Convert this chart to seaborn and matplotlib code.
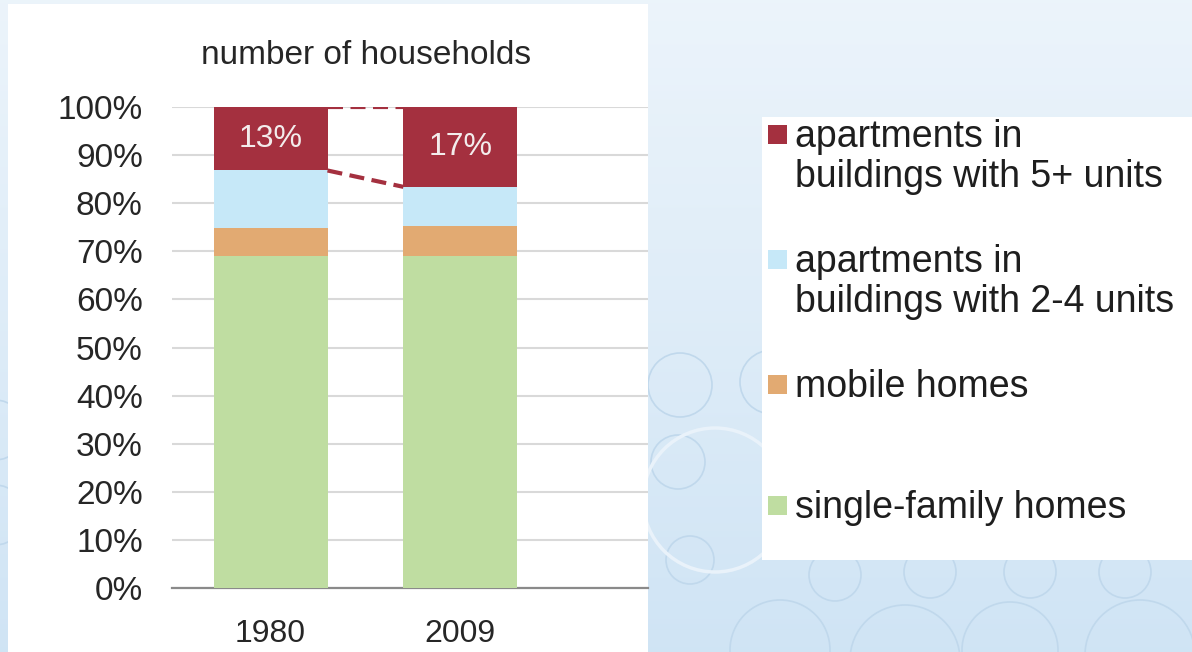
import numpy as np
import pandas as pd
import matplotlib
matplotlib.use("Agg")
import matplotlib.pyplot as plt
import seaborn as sns
from matplotlib.patches import Rectangle, Circle

# ---------------- data ----------------
years = ["1980", "2009"]
single_family = [69.1, 69.1]
mobile_homes = [5.7, 6.2]
apt_2_4 = [12.0, 8.1]
apt_5plus = [13.2, 16.6]
share_labels = ["13%", "17%"]
series_names = ["apartments in\nbuildings with 5+ units",
                "apartments in\nbuildings with 2-4 units",
                "mobile homes",
                "single-family homes"]
series_colors = ["#a4303f", "#c6e8f8", "#e2aa72", "#bfdda1"]
ytick_values = [0, 10, 20, 30, 40, 50, 60, 70, 80, 90, 100]
ytick_labels = [f"{v}%" for v in ytick_values]
title_text = "number of households"

df = pd.DataFrame({"year": years, "single": single_family, "mobile": mobile_homes,
                   "apt24": apt_2_4, "apt5": apt_5plus})
df["c1"] = df["single"]
df["c2"] = df["c1"] + df["mobile"]
df["c3"] = df["c2"] + df["apt24"]
df["c4"] = df["c3"] + df["apt5"]

sns.set_theme(style="white")
plt.rcParams['font.family'] = ['Liberation Sans', 'DejaVu Sans']

W, H = 1192, 652
fig = plt.figure(figsize=(W / 100, H / 100), dpi=100)

# ---------------- background ----------------
bg = fig.add_axes([0, 0, 1, 1], zorder=-10)
bg.set_xlim(0, W)
bg.set_ylim(H, 0)
bg.axis("off")
grad = np.linspace(0, 1, 256)[:, None]
c_top = np.array([0.925, 0.957, 0.984])
c_bot = np.array([0.815, 0.895, 0.960])
img = c_top[None, None, :] * (1 - grad[..., None]) + c_bot[None, None, :] * grad[..., None]
img = np.repeat(img, 2, axis=1)
bg.imshow(img, extent=[0, W, H, 0], aspect="auto", zorder=0)

circle_specs = [(680, 385, 32), (772, 382, 32), (678, 462, 27), (690, 560, 24),
                (835, 575, 26), (930, 572, 26), (1030, 572, 26), (1125, 572, 26),
                (780, 650, 50), (905, 660, 55), (1010, 650, 48), (1140, 655, 55),
                (-5, 430, 30), (-5, 515, 30)]
for cx, cy, r in circle_specs:
    bg.add_patch(Circle((cx, cy), r, facecolor="none", edgecolor="#c0d8ec", lw=1.2, zorder=1))
bg.add_patch(Circle((715, 500), 72, facecolor="none", edgecolor="#e9f2fa", lw=2.5, zorder=1))

# white chart panel
bg.add_patch(Rectangle((8, 4), 640, 660, facecolor="white", edgecolor="none", zorder=2))
# legend panel
bg.add_patch(Rectangle((762, 117), 440, 443, facecolor="white", edgecolor="none", zorder=2))

# ---------------- bars ----------------
ax = fig.add_axes([172 / W, 1 - 588 / H, (648 - 172) / W, (588 - 107) / H])
ax.set_facecolor("none")
bar_w = 0.6
for col, color in zip(["c4", "c3", "c2", "c1"], series_colors):
    sns.barplot(data=df, x="year", y=col, order=years, color=color, saturation=1,
                width=bar_w, ax=ax, zorder=3, edgecolor="none")

ax.set_xlim(-0.52, 1.99)
ax.set_ylim(0, 100)
ax.set_yticks(ytick_values)
ax.set_yticklabels(ytick_labels)
ax.set_xlabel("")
ax.set_ylabel("")
ax.yaxis.grid(True, color="#d9d9d9", lw=1.5)
ax.set_axisbelow(True)
for s in ["left", "right", "top"]:
    ax.spines[s].set_visible(False)
ax.spines["bottom"].set_color("#8a8a8a")
ax.spines["bottom"].set_linewidth(1.6)
ax.tick_params(axis="y", length=0, pad=21, labelsize=24, labelcolor="#262626")
ax.tick_params(axis="x", length=0, pad=22, labelsize=23, labelcolor="#262626")

# segment labels for top series
for i, lab in enumerate(share_labels):
    ymid = (df["c3"].iloc[i] + df["c4"].iloc[i]) / 2
    ax.text(i, ymid, lab, ha="center", va="center", fontsize=23,
            color="#f3ecec", zorder=5)

# dashed connectors between the top segments
x_a, x_b = 0 + bar_w / 2, 1 - bar_w / 2
for col in ["c4", "c3"]:
    ax.plot([x_a, x_b], [df[col].iloc[0], df[col].iloc[1]], color=series_colors[0],
            lw=3, dashes=(3.6, 1.8), zorder=4)

fig.text(366 / W, 1 - 56 / H, title_text, ha="center", va="center", fontsize=24,
         color="#262626")

# ---------------- legend ----------------
entry_baselines = [147, 272, 397, 518]
line_gap = 40
for name, color, yb in zip(series_names, series_colors, entry_baselines):
    bg.add_patch(Rectangle((768, yb - 22), 19, 19, facecolor=color, edgecolor="none", zorder=3))
    for k, line in enumerate(name.split("\n")):
        bg.text(795, yb + k * line_gap, line, ha="left", va="baseline", fontsize=27,
                color="#1e1e1e", zorder=4)

fig.savefig("out.png", dpi=100)
